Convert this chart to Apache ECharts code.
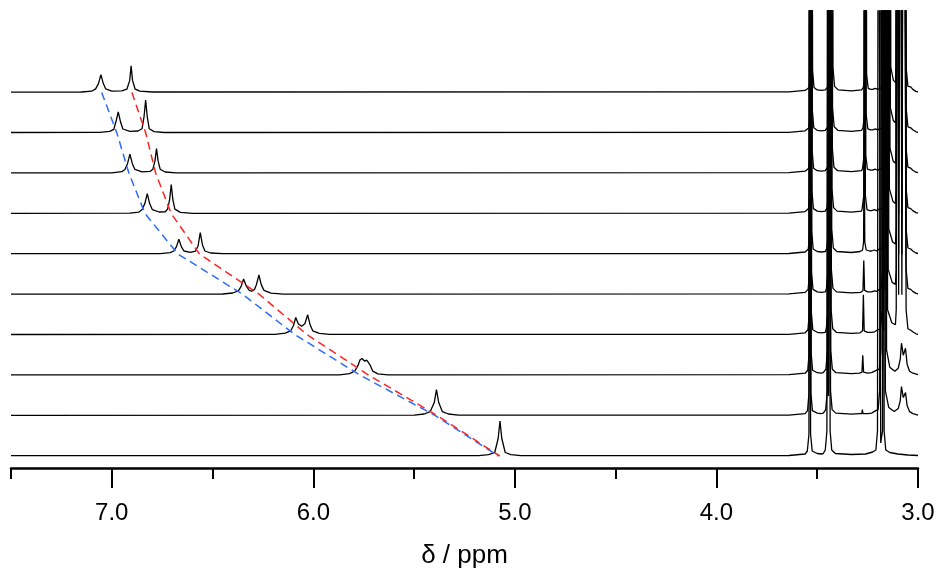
<!DOCTYPE html>
<html>
<head>
<meta charset="utf-8">
<script src="https://cdn.jsdelivr.net/npm/echarts@6/dist/echarts.min.js"></script>
<style>
html, body { margin: 0; padding: 0; background: #fff; }
#chart { width: 940px; height: 577px; }
</style>
</head>
<body>
<div id="chart"></div>
<script>
// stacked 1H NMR spectra, top (spec1) to bottom (spec10); [ppm, intensity]
var spec1 = [[7.5,0.3],[7.15,0.4],[7.10,1.2],[7.08,3.5],[7.066,8.8],[7.054,17.7],[7.042,8.8],[7.03,3.5],[7.00,1.3],[6.95,1.5],[6.925,3.2],[6.911,12],[6.904,26.7],[6.897,12],[6.884,3.2],[6.86,1.2],[6.80,0.4],
  [3.64,0.5],[3.56,2],[3.540,5],[3.533,22],[3.5305,800],[3.5255,800],[3.523,22],[3.516,5],[3.50,2.5],[3.48,2],[3.46,2.5],[3.446,6],[3.438,25],[3.434,800],[3.430,200],[3.426,800],[3.422,25],[3.414,6],[3.396,2.5],[3.33,1.5],[3.28,2.5],[3.271,5],[3.263,18],[3.259,800],[3.255,18],[3.247,4],[3.235,3],[3.225,3],[3.212,4],[3.20,3],[3.178,5],[3.164,6],[3.156,25],[3.152,800],[3.146,45],[3.139,800],[3.135,25],[3.122,12],[3.112,10],[3.108,25],[3.104,800],[3.096,40],[3.088,800],[3.080,40],[3.071,800],[3.063,800],[3.059,25],[3.05,6],[3.036,5.5],[3.026,3],[3.01,1],[3.0,0.5]];
var spec2 = [[7.5,0.3],[7.06,0.4],[7.01,1.5],[6.99,3.5],[6.98,10.5],[6.968,21],[6.956,10.5],[6.945,3.8],[6.91,1.4],[6.87,1.8],[6.85,4],[6.84,16],[6.832,32.7],[6.824,16],[6.814,4],[6.79,1.2],[6.74,0.3],
  [3.64,0.5],[3.56,2],[3.541,5],[3.534,22],[3.5315,800],[3.5265,800],[3.524,22],[3.517,5],[3.50,2.5],[3.48,2],[3.46,2.5],[3.448,6],[3.440,25],[3.436,800],[3.432,200],[3.428,800],[3.424,25],[3.416,6],[3.398,2.5],[3.33,1.5],[3.28,2.5],[3.273,5],[3.265,18],[3.261,800],[3.257,18],[3.249,4],[3.235,3],[3.225,3],[3.212,4],[3.20,3],[3.181,5],[3.167,6],[3.159,25],[3.155,800],[3.148,45],[3.141,800],[3.137,25],[3.122,12],[3.112,10],[3.108,25],[3.104,800],[3.096,40],[3.088,800],[3.080,40],[3.071,800],[3.063,800],[3.059,25],[3.05,6],[3.036,5],[3.026,3],[3.01,1],[3.0,0.5]];
var spec3 = [[7.5,0.3],[7.0,0.4],[6.95,1.5],[6.935,3.8],[6.922,9.5],[6.910,19],[6.898,9.5],[6.885,3.8],[6.85,1.4],[6.81,1.8],[6.796,4],[6.786,12],[6.778,24.7],[6.770,12],[6.76,4],[6.735,1.2],[6.68,0.3],
  [3.64,0.5],[3.56,2],[3.542,5],[3.535,22],[3.5325,800],[3.5275,800],[3.525,22],[3.518,5],[3.50,2.5],[3.48,2],[3.46,2.5],[3.449,6],[3.441,25],[3.437,800],[3.433,200],[3.429,800],[3.425,25],[3.417,6],[3.399,2.5],[3.33,1.5],[3.28,2.5],[3.275,5],[3.267,18],[3.263,800],[3.259,18],[3.251,4],[3.235,3],[3.225,3],[3.214,4],[3.20,3],[3.184,5],[3.170,6],[3.162,25],[3.158,800],[3.150,45],[3.143,800],[3.139,25],[3.123,12],[3.112,10],[3.108,25],[3.104,800],[3.096,40],[3.088,800],[3.080,40],[3.071,800],[3.063,800],[3.059,25],[3.05,6],[3.036,5],[3.026,3],[3.01,1],[3.0,0.5]];
var spec4 = [[7.5,0.3],[6.91,0.4],[6.865,1.5],[6.849,4],[6.836,10],[6.824,20],[6.812,10],[6.799,4],[6.765,1.6],[6.735,1.8],[6.723,4.5],[6.713,14],[6.705,29],[6.697,14],[6.687,4.5],[6.66,1.2],[6.6,0.3],
  [3.64,0.5],[3.56,2],[3.543,5],[3.536,22],[3.5335,800],[3.5285,800],[3.526,22],[3.519,5],[3.50,2.5],[3.48,2],[3.46,2.5],[3.451,6],[3.443,25],[3.439,800],[3.435,200],[3.431,800],[3.427,25],[3.419,6],[3.401,2.5],[3.33,1.5],[3.28,2.5],[3.277,5],[3.269,18],[3.265,800],[3.261,18],[3.253,4],[3.24,3],[3.23,3],[3.216,4],[3.205,3],[3.188,5],[3.174,6],[3.166,25],[3.162,800],[3.154,45],[3.146,800],[3.142,25],[3.124,12],[3.112,10],[3.108,25],[3.104,800],[3.096,40],[3.088,800],[3.080,40],[3.071,800],[3.063,800],[3.059,25],[3.05,6],[3.036,5],[3.026,3],[3.01,1],[3.0,0.5]];
var spec5 = [[7.5,0.3],[6.76,0.4],[6.71,1.3],[6.692,3],[6.679,7.4],[6.667,14.7],[6.655,7.4],[6.642,3],[6.61,1.6],[6.585,2.8],[6.572,8],[6.561,21.3],[6.550,9],[6.538,3],[6.51,1],[6.45,0.3],
  [3.64,0.5],[3.56,2],[3.544,5],[3.537,22],[3.5345,800],[3.5295,800],[3.527,22],[3.520,5],[3.50,2.5],[3.48,2],[3.46,2.5],[3.452,6],[3.444,25],[3.440,800],[3.436,200],[3.432,800],[3.428,25],[3.420,6],[3.402,2.5],[3.33,1.5],[3.287,2.5],[3.275,4],[3.270,12],[3.267,120],[3.264,12],[3.257,4],[3.24,3],[3.23,3],[3.216,4],[3.205,3],[3.192,5],[3.178,6],[3.170,25],[3.166,800],[3.158,45],[3.149,800],[3.145,25],[3.126,12],[3.112,10],[3.108,25],[3.104,800],[3.096,40],[3.088,800],[3.080,40],[3.071,800],[3.063,800],[3.059,25],[3.05,6],[3.036,5],[3.026,3],[3.01,1],[3.0,0.5]];
var spec6 = [[7.5,0.3],[6.45,0.4],[6.40,1.4],[6.372,3.5],[6.358,8],[6.346,15.4],[6.333,8.5],[6.318,4],[6.305,3.2],[6.292,5],[6.282,10],[6.270,19.4],[6.258,9.5],[6.245,4],[6.21,1.3],[6.15,0.3],
  [3.64,0.5],[3.56,2],[3.545,5],[3.538,22],[3.5355,800],[3.5305,800],[3.528,22],[3.521,5],[3.50,2.5],[3.48,2],[3.46,2.5],[3.454,6],[3.446,25],[3.442,800],[3.438,200],[3.434,800],[3.430,25],[3.422,6],[3.404,2.5],[3.33,1.5],[3.285,2],[3.273,4],[3.269,34],[3.265,4],[3.25,2.5],[3.23,2.5],[3.216,3.5],[3.205,3],[3.196,5],[3.182,6],[3.174,25],[3.170,800],[3.161,45],[3.152,800],[3.148,25],[3.128,12],[3.112,10],[3.108,25],[3.104,800],[3.096,40],[3.088,800],[3.080,40],[3.071,800],[3.063,800],[3.059,25],[3.05,6],[3.036,5],[3.026,3],[3.01,1],[3.0,0.5]];
var spec7 = [[7.5,0.3],[6.19,0.4],[6.14,1.6],[6.112,4],[6.099,9],[6.087,17.3],[6.075,11],[6.058,8.5],[6.042,11],[6.028,20],[6.016,10],[6.003,4],[5.97,1.4],[5.92,0.4],
  [3.64,0.5],[3.56,2],[3.546,5],[3.539,22],[3.5365,800],[3.5315,800],[3.529,22],[3.522,5],[3.50,2.5],[3.48,2],[3.46,2.5],[3.455,6],[3.447,25],[3.443,800],[3.439,200],[3.435,800],[3.431,25],[3.423,6],[3.405,2.5],[3.33,1.5],[3.287,2],[3.275,4],[3.271,40],[3.267,4],[3.25,2.5],[3.23,2.5],[3.215,3],[3.20,5],[3.186,6],[3.178,25],[3.174,800],[3.164,45],[3.155,800],[3.151,25],[3.13,12],[3.112,10],[3.108,25],[3.104,800],[3.096,40],[3.088,800],[3.080,40],[3.071,800],[3.063,800],[3.059,25],[3.05,6],[3.036,4.5],[3.026,3],[3.01,1],[3.0,0.5]];
var spec8 = [[7.5,0.3],[5.87,0.4],[5.82,1.6],[5.795,4],[5.78,9],[5.768,15.5],[5.758,16.7],[5.745,14],[5.735,15],[5.728,16],[5.718,10],[5.705,4],[5.68,1.4],[5.63,0.4],
  [3.64,0.5],[3.56,2],[3.547,5],[3.540,22],[3.5375,800],[3.5325,800],[3.530,22],[3.523,5],[3.50,2.5],[3.48,2],[3.47,2.5],[3.457,6],[3.449,25],[3.445,800],[3.441,200],[3.437,800],[3.433,25],[3.425,6],[3.407,2.5],[3.33,1.5],[3.29,2],[3.278,3],[3.274,20],[3.270,3],[3.25,2],[3.23,2.5],[3.205,5],[3.192,6],[3.184,25],[3.180,800],[3.170,45],[3.160,800],[3.156,25],[3.14,8],[3.115,4],[3.098,7],[3.088,16],[3.082,32],[3.073,20],[3.062,27],[3.054,11],[3.042,4],[3.025,2],[3.0,0.5]];
var spec9 = [[7.5,0.3],[5.50,0.4],[5.45,1.6],[5.42,4],[5.40,13],[5.389,26],[5.378,13],[5.36,4],[5.33,1.6],[5.28,0.4],
  [3.64,0.5],[3.56,2],[3.548,5],[3.541,22],[3.5385,800],[3.5335,800],[3.531,22],[3.524,5],[3.50,2.5],[3.48,2],[3.47,2.5],[3.458,6],[3.450,25],[3.446,800],[3.442,200],[3.438,800],[3.434,25],[3.426,6],[3.408,2.5],[3.33,1.5],[3.29,2],[3.279,2],[3.276,6],[3.273,2],[3.25,2],[3.23,2.5],[3.21,5],[3.198,6],[3.190,25],[3.186,800],[3.176,45],[3.166,800],[3.162,25],[3.145,8],[3.118,4],[3.098,7],[3.088,15],[3.082,29],[3.073,18],[3.062,23],[3.054,10],[3.042,4],[3.025,2],[3.0,0.5]];
var spec10 = [[7.5,0.3],[5.18,0.4],[5.13,1.4],[5.10,3.5],[5.083,17.5],[5.074,35],[5.065,17.5],[5.048,3.5],[5.02,1.4],[4.97,0.4],
  [3.64,0.5],[3.56,2],[3.549,5],[3.541,22],[3.537,800],[3.533,22],[3.525,5],[3.50,2.5],[3.48,2],[3.47,2.5],[3.460,6],[3.452,25],[3.448,800],[3.444,60],[3.440,800],[3.436,25],[3.428,6],[3.41,2.5],[3.33,1.5],[3.26,2],[3.225,4],[3.209,6],[3.201,25],[3.197,800],[3.185,13],[3.176,25],[3.172,800],[3.168,25],[3.16,6],[3.14,3.5],[3.10,2],[3.05,1],[3.0,0.5]];

// dashed guides: ppm where each guide crosses each spectrum baseline (top to bottom)
var bluePath = [7.05, 6.975, 6.915, 6.835, 6.672, 6.35, 6.09, 5.768, 5.395, 5.082];
var redPath = [6.90, 6.832, 6.782, 6.705, 6.565, 6.268, 6.03, 5.725, 5.385, 5.075];

// axis ticks
var majorTicks = [3, 4, 5, 6, 7];
var minorTicks = [3.5, 4.5, 5.5, 6.5, 7.5];

var spectra = [spec1, spec2, spec3, spec4, spec5, spec6, spec7, spec8, spec9, spec10];
var FIRST = 12, STEP = 40.4;   // stacking offset (y units = px)

function baseOf(k) { return FIRST + (spectra.length - 1 - k) * STEP; }

var chart = echarts.init(document.getElementById('chart'));

var series = [];
spectra.forEach(function (s, k) {
    series.push({
        type: 'line',
        symbol: 'none',
        silent: true,
        clip: true,
        lineStyle: { color: '#000', width: 1.3 },
        data: s.map(function (p) { return [p[0], p[1] + baseOf(k)]; })
    });
});
series.push({
    type: 'line', symbol: 'none', silent: true, z: 3,
    lineStyle: { color: '#2b6cff', width: 1.5, type: [8, 5] },
    data: bluePath.map(function (x, k) { return [x, baseOf(k)]; })
});
series.push({
    type: 'line', symbol: 'none', silent: true, z: 3,
    lineStyle: { color: '#ff2424', width: 1.5, type: [8, 5] },
    data: redPath.map(function (x, k) { return [x, baseOf(k)]; })
});

var option = {
    backgroundColor: '#fff',
    animation: false,
    grid: { left: 11, right: 22, top: 11, bottom: 109 },
    xAxis: [{
        type: 'value',
        min: 3, max: 7.5,
        inverse: true,
        position: 'bottom',
        axisLine: { lineStyle: { color: '#000', width: 2.5 } },
        axisTick: { customValues: majorTicks, length: 20, lineStyle: { color: '#000', width: 2 } },
        axisLabel: {
            customValues: majorTicks,
            formatter: function (v) { return v.toFixed(1); },
            color: '#000', fontSize: 24, fontFamily: 'Liberation Sans', margin: 33
        },
        splitLine: { show: false },
        name: 'δ / ppm',
        nameLocation: 'middle',
        nameGap: 75,
        nameTextStyle: { color: '#000', fontSize: 26, fontFamily: 'Liberation Sans' }
    }, {
        type: 'value',
        min: 3, max: 7.5,
        inverse: true,
        position: 'bottom',
        axisLine: { show: false },
        axisTick: { customValues: minorTicks, length: 11, lineStyle: { color: '#000', width: 2 } },
        axisLabel: { show: false },
        splitLine: { show: false }
    }],
    yAxis: { type: 'value', min: 0, max: 457, show: false },
    series: series
};

chart.setOption(option);
</script>
</body>
</html>
